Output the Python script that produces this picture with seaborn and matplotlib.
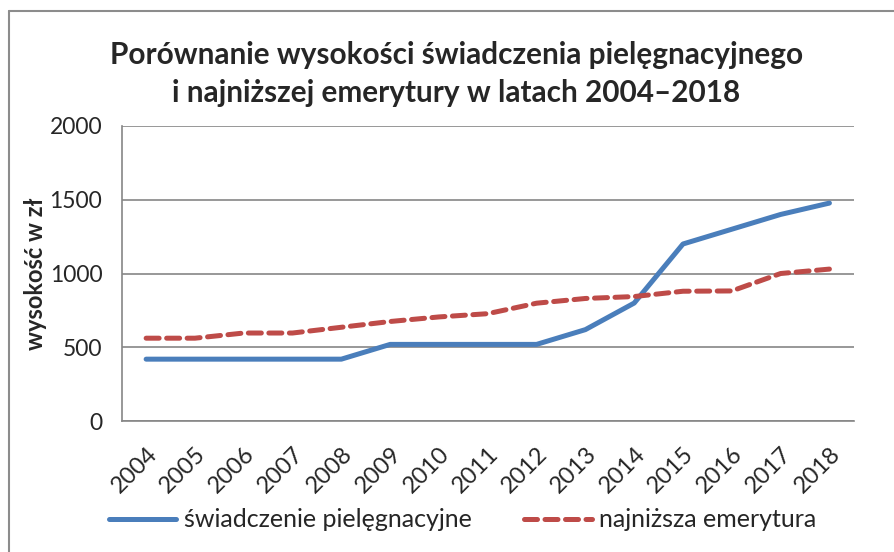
import matplotlib
matplotlib.use("Agg")
import matplotlib.pyplot as plt
from matplotlib.lines import Line2D
import seaborn as sns
import pandas as pd
import numpy as np

years = [str(y) for y in range(2004, 2019)]
swiadczenie = [420, 420, 420, 420, 420, 520, 520, 520, 520, 620, 800, 1200, 1300, 1400, 1477]
emerytura = [562, 562, 597, 597, 636, 675, 706, 728, 799, 831, 844, 880, 882, 1000, 1030]
series_names = ["świadczenie pielęgnacyjne", "najniższa emerytura"]
y_ticks = [0, 500, 1000, 1500, 2000]

df = pd.DataFrame({
    "rok": years * 2,
    "pos": list(range(len(years))) * 2,
    "wartosc": swiadczenie + emerytura,
    "seria": [series_names[0]] * len(years) + [series_names[1]] * len(years),
})

sns.set_style("white")
plt.rcParams["font.family"] = ["Lato", "DejaVu Sans"]

fig = plt.figure(figsize=(8.95, 5.52), dpi=100)
ax = fig.add_axes([0.136, 0.237, 0.818, 0.535])

palette = {series_names[0]: "#4A7EBB", series_names[1]: "#BE4B48"}
sns.lineplot(data=df, x="pos", y="wartosc", hue="seria", palette=palette,
             linewidth=3.6, ax=ax, legend=False)
ax.lines[0].set_solid_capstyle("round")
ax.lines[1].set_dashes((2.6, 1.5))
ax.lines[1].set_dash_capstyle("round")

grid_c = "#868686"
ax.set_xlim(-0.5, len(years) - 0.5)
ax.set_ylim(0, 2000)
ax.set_yticks(y_ticks)
ax.set_yticklabels([str(v) for v in y_ticks], fontsize=16.5)
ax.set_xticks(range(len(years)))
ax.set_xticklabels(years, fontsize=17, rotation=45, ha="right", va="top",
                   rotation_mode="anchor")
ax.set_xticks(np.arange(-0.5, len(years)), minor=True)
ax.tick_params(axis="x", which="major", length=0, pad=16)
ax.tick_params(axis="x", which="minor", length=7, color=grid_c, width=1.2, direction="out")
ax.tick_params(axis="y", length=6, color=grid_c, width=1.2, direction="out", pad=8)
ax.grid(axis="y", color=grid_c, linewidth=1.2)
ax.set_axisbelow(True)
for s in ["top", "right"]:
    ax.spines[s].set_visible(False)
for s in ["left", "bottom"]:
    ax.spines[s].set_color(grid_c)
    ax.spines[s].set_linewidth(1.2)

ax.set_xlabel("")
ax.set_ylabel("wysokość w zł", fontsize=17, fontweight="bold", labelpad=2)

fig.suptitle("Porównanie wysokości świadczenia pielęgnacyjnego\ni najniższej emerytury w latach 2004–2018",
             fontsize=21.4, fontweight="bold", x=0.51, y=0.925, linespacing=1.42)

handles = [Line2D([], [], color=palette[series_names[0]], linewidth=3.6, solid_capstyle="round"),
           Line2D([], [], color=palette[series_names[1]], linewidth=3.6, dashes=(2.6, 1.5),
                  dash_capstyle="round")]
fig.legend(handles, series_names, loc="center", bbox_to_anchor=(0.517, 0.058), ncol=2,
           frameon=False, fontsize=18, handlelength=2.7, handletextpad=0.3, columnspacing=2.1)

# chart-area border (cropped at right and bottom)
border_c = "#8C8C8C"
fig.add_artist(Line2D([9 / 895, 1], [1 - 11 / 552, 1 - 11 / 552], color=border_c, linewidth=1.5,
                      transform=fig.transFigure))
fig.add_artist(Line2D([9 / 895, 9 / 895], [0, 1 - 11 / 552], color=border_c, linewidth=1.5,
                      transform=fig.transFigure))

fig.savefig("out.png", dpi=100)
